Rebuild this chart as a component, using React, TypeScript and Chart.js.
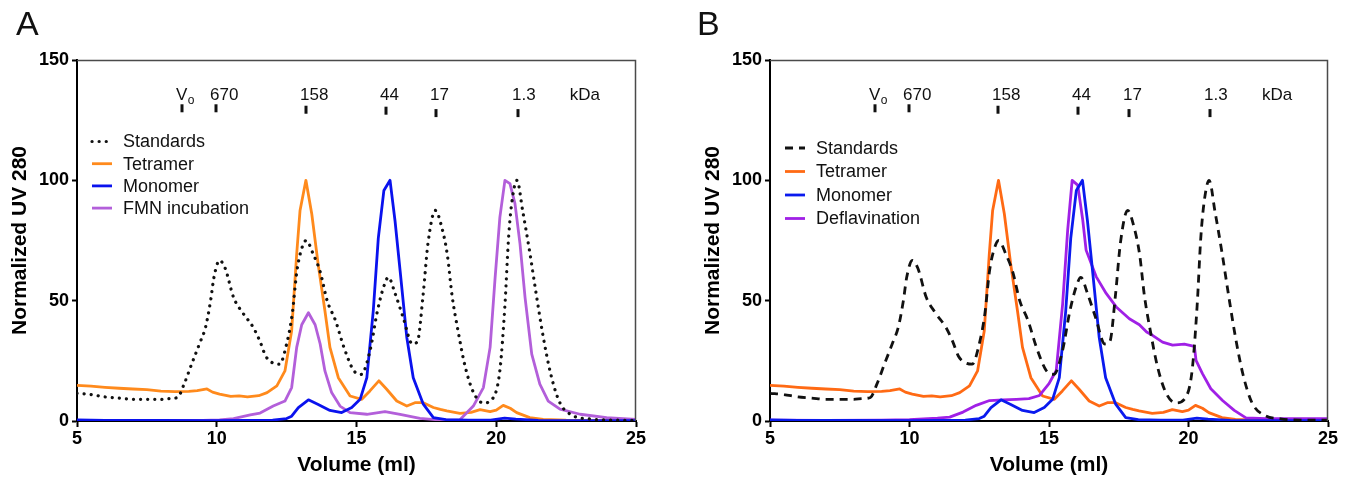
import React, { useEffect, useRef } from 'react';
import { Chart, registerables } from 'chart.js';

Chart.register(...registerables);

const FONT = '"Liberation Sans", Arial, Helvetica, sans-serif';

// ---------------- Data (volume in ml, normalized UV 280) ----------------
const standardsVol = [5, 5.5, 6, 6.5, 7, 7.5, 8, 8.3, 8.6, 8.82, 9.1, 9.4, 9.6, 9.78, 9.9, 10.1, 10.3, 10.6, 10.95, 11.3, 11.55, 11.75, 11.95, 12.25, 12.5, 12.7, 12.87, 13.05, 13.2, 13.45, 13.7, 13.95, 14.25, 14.55, 14.9, 15.17, 15.48, 15.75, 15.98, 16.14, 16.38, 16.67, 17.0, 17.18, 17.38, 17.56, 17.82, 18.05, 18.25, 18.42, 18.64, 18.88, 19.18, 19.54, 19.9, 20.13, 20.31, 20.44, 20.56, 20.74, 20.95, 21.2, 21.44, 21.68, 21.96, 22.28, 22.75, 23.3, 24, 25];
const standardsVal = [11.5, 11, 10, 9.5, 9, 9, 9, 9.3, 9.8, 15, 23.6, 32.6, 39, 50, 59.7, 66.7, 63.5, 51.4, 44.6, 39, 33, 27, 24.5, 23.6, 32, 44.4, 62.5, 72, 75, 69.4, 62, 50, 41.7, 30.6, 21, 19.4, 29, 45.8, 56, 59.7, 53, 43, 32, 33, 52, 74, 87.5, 80.5, 69, 52, 37, 23, 12, 7.5, 9.8, 21, 48, 76, 91, 100, 87, 70, 52, 35, 19, 7.5, 2.2, 0.9, 0.4, 0.3];

const tetramerVol = [5, 5.5, 6, 6.5, 7, 7.5, 8, 8.5, 9, 9.3, 9.65, 9.85, 10.1, 10.5, 10.8, 11.1, 11.5, 11.8, 12.15, 12.44, 12.68, 12.86, 12.98, 13.19, 13.4, 13.63, 13.87, 14.05, 14.35, 14.77, 15.19, 15.48, 15.8, 16.08, 16.44, 16.8, 17.09, 17.39, 17.75, 18.0, 18.23, 18.7, 19.1, 19.42, 19.78, 20.0, 20.25, 20.5, 20.73, 21.2, 21.68, 22.5, 25];
const tetramerVal = [14.8, 14.5, 14, 13.6, 13.3, 13, 12.4, 12.2, 12.3, 12.6, 13.3, 12, 11.2, 10.2, 10.4, 10, 10.5, 11.8, 14.6, 20.8, 37.5, 69.4, 87.5, 100, 86, 65, 45.8, 30.6, 18, 10.4, 9, 12.5, 16.7, 13.2, 8.3, 6.2, 7.6, 7.6, 5.6, 4.8, 4.2, 3.2, 3.6, 4.7, 3.9, 4.5, 6.5, 5.3, 3.5, 1.4, 0.7, 0.4, 0.2];

const monomerVol = [5, 6, 8, 10, 11, 12, 12.5, 12.68, 12.92, 13.28, 13.63, 14.05, 14.47, 14.83, 15.13, 15.37, 15.6, 15.78, 15.98, 16.2, 16.38, 16.56, 16.8, 17.03, 17.39, 17.75, 18.2, 19, 19.8, 20.3, 20.7, 21.5, 25];
const monomerVal = [0.5, 0.3, 0.2, 0.1, 0.2, 0.4, 1, 2, 5.6, 8.8, 6.9, 4.4, 3.5, 5.6, 9, 18, 45.8, 76, 95.8, 100, 83, 62.5, 34.7, 18, 7, 1.4, 0.6, 0.4, 0.4, 1.2, 0.8, 0.3, 0.1];

const fmnVol = [5, 8, 9.5, 10.1, 10.6, 11.2, 11.55, 12.02, 12.44, 12.68, 12.86, 13.04, 13.28, 13.52, 13.7, 13.87, 14.11, 14.41, 14.77, 15.37, 16.02, 16.56, 17.27, 18, 18.7, 19.18, 19.54, 19.78, 19.96, 20.13, 20.31, 20.49, 20.67, 20.85, 21.03, 21.27, 21.56, 21.86, 22.28, 23.0, 23.95, 25];
const fmnVal = [0.3, 0.2, 0.3, 0.5, 1, 2.5, 3.3, 6.2, 8.3, 13.9, 30.6, 40, 45, 40, 32, 20.8, 11.8, 6.2, 3.5, 2.8, 3.9, 2.8, 1.1, 0.4, 0.5, 6.2, 13.9, 30.6, 59.7, 84.7, 100, 98.6, 90.3, 73.6, 51.4, 27.8, 15.3, 8.3, 4.9, 2.8, 1.4, 0.7];

const deflavVol = [5, 7, 9, 10, 11, 11.44, 11.92, 12.39, 12.87, 13.35, 13.83, 14.28, 14.66, 15.0, 15.26, 15.49, 15.67, 15.83, 16.03, 16.21, 16.33, 16.69, 17.05, 17.41, 17.88, 18.24, 18.5, 18.71, 19.07, 19.43, 19.85, 20.21, 20.27, 20.5, 20.8, 21.22, 21.64, 22.06, 22.8, 25];
const deflavVal = [0.4, 0.3, 0.4, 0.6, 1.2, 1.6, 3.7, 6.5, 8.5, 8.8, 9, 9.3, 10.6, 15.5, 21, 48.8, 79.4, 100, 98, 83.5, 71, 60, 53, 47.4, 42.5, 40, 37, 35.6, 32.8, 31.5, 31.9, 31, 25.2, 19.7, 13.4, 8.5, 4.4, 1.3, 1, 1];

// Molecular-weight markers (elution volume, ml)
const markerVol = [8.77, 9.98, 13.18, 16.05, 17.85, 20.78];
const markerLabels = ['V', '670', '158', '44', '17', '1.3'];
const markerSubs = ['o', '', '', '', '', ''];
const markerTop = [131.6, 131.6, 131, 130.6, 129.6, 129.6];
const markerLabelLevel = 133.4;
const unitLabel = 'kDa';
const unitVol = 22.63;

// Axes
const xMin = 5, xMax = 25, xStep = 5;
const yMin = 0, yMax = 150, yStep = 50;
const xTitle = 'Volume (ml)';
const yTitle = 'Normalized UV 280';

const pts = (xs: number[], ys: number[]) => xs.map((x, i) => ({ x, y: ys[i] }));

const overlayPlugin = {
  id: 'overlay',
  afterDatasetsDraw(chart: any, _args: any, opts: any) {
    const { ctx, chartArea: ca, scales } = chart;
    const xs = scales.x, ys = scales.y;
    ctx.save();
    // top / right frame
    ctx.strokeStyle = '#4a4a4a';
    ctx.lineWidth = 1.5;
    ctx.setLineDash([]);
    ctx.beginPath();
    ctx.moveTo(ca.left, ca.top + 0.5);
    ctx.lineTo(ca.right - 0.5, ca.top + 0.5);
    ctx.lineTo(ca.right - 0.5, ca.bottom);
    ctx.stroke();

    // markers
    ctx.fillStyle = '#111';
    ctx.strokeStyle = '#111';
    ctx.textBaseline = 'alphabetic';
    ctx.textAlign = 'left';
    const labelY = ys.getPixelForValue(markerLabelLevel);
    markerVol.forEach((v, i) => {
      const px = Math.round(xs.getPixelForValue(v));
      const top = ys.getPixelForValue(markerTop[i]);
      ctx.lineWidth = 3;
      ctx.beginPath();
      ctx.moveTo(px, top);
      ctx.lineTo(px, top + 8);
      ctx.stroke();
      ctx.font = `17px ${FONT}`;
      const tx = px - 6;
      ctx.fillText(markerLabels[i], tx, labelY);
      if (markerSubs[i]) {
        const w = ctx.measureText(markerLabels[i]).width;
        ctx.font = `12px ${FONT}`;
        ctx.fillText(markerSubs[i], tx + w + 0.5, labelY + 4);
      }
    });
    ctx.font = `17px ${FONT}`;
    ctx.fillText(unitLabel, xs.getPixelForValue(unitVol), labelY);

    // legend
    chart.data.datasets.forEach((ds: any, i: number) => {
      const yy = opts.legendTop + i * opts.legendStep;
      ctx.strokeStyle = ds.borderColor;
      ctx.lineWidth = ds.borderWidth;
      ctx.lineCap = ds.borderCapStyle || 'butt';
      ctx.setLineDash(ds.borderDash || []);
      ctx.beginPath();
      ctx.moveTo(ca.left + 15, yy);
      ctx.lineTo(ca.left + 35, yy);
      ctx.stroke();
      ctx.setLineDash([]);
      ctx.lineCap = 'butt';
      ctx.fillStyle = '#111';
      ctx.font = `18px ${FONT}`;
      ctx.textBaseline = 'middle';
      ctx.fillText(ds.label, ca.left + 46, yy + 1);
    });
    ctx.restore();
  },
};

type PanelProps = {
  left: number;
  width: number;
  yWidth: number;
  padRight: number;
  titlePad: number;
  legendTop: number;
  legendStep: number;
  datasets: any[];
};

function Panel(p: PanelProps) {
  const ref = useRef<HTMLCanvasElement | null>(null);
  useEffect(() => {
    if (!ref.current) return;
    const chart = new Chart(ref.current, {
      type: 'line',
      data: { datasets: p.datasets },
      options: {
        animation: false,
        responsive: false,
        maintainAspectRatio: false,
        devicePixelRatio: 1,
        parsing: true,
        layout: { padding: { top: 60, right: p.padRight, left: 0, bottom: 0 } },
        elements: { point: { radius: 0 } },
        plugins: {
          legend: { display: false },
          tooltip: { enabled: false },
          overlay: { legendTop: p.legendTop, legendStep: p.legendStep },
        } as any,
        scales: {
          x: {
            type: 'linear',
            min: xMin,
            max: xMax,
            afterFit: (s: any) => { s.height = 57; },
            ticks: { stepSize: xStep, color: '#000', padding: 1, font: { family: FONT, size: 18, weight: 'bold' } },
            grid: { display: true, drawOnChartArea: false, drawTicks: true, tickLength: 6, tickWidth: 2, tickColor: '#000' },
            border: { display: true, color: '#000', width: 2 },
            title: { display: true, text: xTitle, color: '#000', padding: { top: 0, bottom: 0 }, font: { family: FONT, size: 21, weight: 'bold', lineHeight: 1.2 } },
          },
          y: {
            type: 'linear',
            min: yMin,
            max: yMax,
            afterFit: (s: any) => { s.width = p.yWidth; },
            ticks: { stepSize: yStep, color: '#000', padding: 3, font: { family: FONT, size: 18, weight: 'bold' } },
            grid: { display: true, drawOnChartArea: false, drawTicks: true, tickLength: 5, tickWidth: 2, tickColor: '#000' },
            border: { display: true, color: '#000', width: 2 },
            title: { display: true, text: yTitle, color: '#000', padding: { top: p.titlePad, bottom: 0 }, font: { family: FONT, size: 21, weight: 'bold', lineHeight: 1.2 } },
          },
        },
      } as any,
      plugins: [overlayPlugin],
    });
    return () => chart.destroy();
  }, []);
  return (
    <canvas
      ref={ref}
      width={p.width}
      height={478}
      style={{ position: 'absolute', left: p.left, top: 0, width: p.width, height: 478 }}
    />
  );
}

function ds(label: string, xs: number[], ys: number[], color: string, order: number, dash?: number[], cap?: string, smooth?: boolean) {
  return {
    label,
    data: pts(xs, ys),
    borderColor: color,
    backgroundColor: 'transparent',
    borderWidth: dash && cap === 'round' ? 3.2 : 2.8,
    borderDash: dash || [],
    borderCapStyle: cap || 'butt',
    borderJoinStyle: 'round',
    fill: false,
    order,
    tension: 0,
    cubicInterpolationMode: smooth ? 'monotone' : 'default',
    pointRadius: 0,
  };
}

const datasetsA = [
  ds('Standards', standardsVol, standardsVal, '#111111', 0, [0.1, 7], 'round', true),
  ds('Tetramer', tetramerVol, tetramerVal, '#ff8a1c', 3),
  ds('Monomer', monomerVol, monomerVal, '#0a12ee', 1),
  ds('FMN incubation', fmnVol, fmnVal, '#b35fda', 2),
];

const datasetsB = [
  ds('Standards', standardsVol, standardsVal, '#111111', 0, [8, 6], 'butt', true),
  ds('Tetramer', tetramerVol, tetramerVal, '#ff6a14', 3),
  ds('Monomer', monomerVol, monomerVal, '#0a1aee', 1),
  ds('Deflavination', deflavVol, deflavVal, '#a020e6', 2),
];

export default function App() {
  return (
    <div style={{ position: 'absolute', left: 0, top: 0, width: 1353, height: 478, background: '#fff', fontFamily: FONT, overflow: 'hidden' }}>
      <Panel left={0} width={690} yWidth={77} padRight={54} titlePad={8} legendTop={141.5} legendStep={22.2} datasets={datasetsA} />
      <Panel left={690} width={663} yWidth={80} padRight={25} titlePad={11} legendTop={148} legendStep={23.5} datasets={datasetsB} />
      <div style={{ position: 'absolute', left: 16, top: 4, fontSize: 34, lineHeight: '38px', color: '#111' }}>A</div>
      <div style={{ position: 'absolute', left: 697, top: 4, fontSize: 34, lineHeight: '38px', color: '#111' }}>B</div>
    </div>
  );
}
